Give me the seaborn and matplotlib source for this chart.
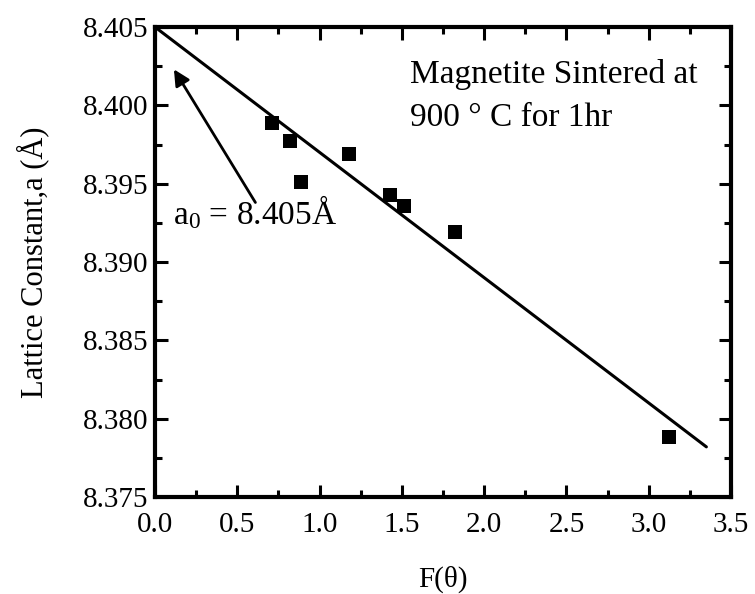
import matplotlib
matplotlib.use("Agg")
import matplotlib.pyplot as plt
import seaborn as sns
import pandas as pd
from matplotlib.ticker import MultipleLocator, FormatStrFormatter

# Data
f_theta = [0.71, 0.82, 0.89, 1.18, 1.43, 1.51, 1.82, 3.12]
lattice_a = [8.3989, 8.3977, 8.3951, 8.3969, 8.3943, 8.3936, 8.3919, 8.3788]
fit_x = [0.0, 3.35]
fit_y = [8.405, 8.3782]
x_ticks = [0.0, 0.5, 1.0, 1.5, 2.0, 2.5, 3.0, 3.5]
y_ticks = [8.375, 8.380, 8.385, 8.390, 8.395, 8.400, 8.405]

sns.set_theme(style="ticks")
plt.rcParams['font.family'] = ['Liberation Serif', 'DejaVu Serif']
plt.rcParams['mathtext.fontset'] = 'custom'
plt.rcParams['mathtext.rm'] = 'Liberation Serif'
plt.rcParams['mathtext.it'] = 'Liberation Serif'
plt.rcParams['text.color'] = 'black'
plt.rcParams['axes.labelcolor'] = 'black'

df = pd.DataFrame({"F": f_theta, "a": lattice_a})
fit = pd.DataFrame({"F": fit_x, "a": fit_y})

fig = plt.figure(figsize=(7.55, 5.94), dpi=100)
ax = fig.add_axes([0.2053, 0.1633, 0.763, 0.7912])

sns.lineplot(data=fit, x="F", y="a", ax=ax, color="black", linewidth=2.2)
sns.scatterplot(data=df, x="F", y="a", ax=ax, marker="s", s=110, color="black",
                edgecolor="black", linewidth=0, zorder=5)

ax.set_xlim(0.0, 3.5)
ax.set_ylim(8.375, 8.405)
ax.set_xticks(x_ticks)
ax.set_yticks(y_ticks)
ax.xaxis.set_major_formatter(FormatStrFormatter('%.1f'))
ax.yaxis.set_major_formatter(FormatStrFormatter('%.3f'))
ax.xaxis.set_minor_locator(MultipleLocator(0.25))
ax.yaxis.set_minor_locator(MultipleLocator(0.0025))

ax.tick_params(which='both', direction='in', top=True, right=True, colors='black',
               labelcolor='black', labelsize=21, width=2.2)
ax.tick_params(which='major', length=9)
ax.tick_params(axis='y', which='major', pad=5)
ax.tick_params(axis='x', which='major', pad=11)
ax.tick_params(which='minor', length=5)
for s in ax.spines.values():
    s.set_linewidth(3.0)
    s.set_color('black')

ax.set_xlabel("F(θ)", fontsize=21, labelpad=20, color='black')
ax.set_ylabel("Lattice Constant,a (Å)", fontsize=22, labelpad=24, color='black')

ax.annotate("", xy=(0.115, 8.4023), xytext=(0.61, 8.3938),
            arrowprops=dict(arrowstyle="-|>", color="black", lw=2.0,
                            mutation_scale=24, shrinkA=0, shrinkB=0))
ax.text(0.11, 8.3924, "a$_0$ = 8.405Å", fontsize=24, ha="left", va="baseline")
ax.text(1.55, 8.4020, "Magnetite Sintered at", fontsize=24,
        ha="left", va="center")
ax.text(1.55, 8.3992, "900 ° C for 1hr", fontsize=24,
        ha="left", va="center")

fig.savefig("out.png", dpi=100)
